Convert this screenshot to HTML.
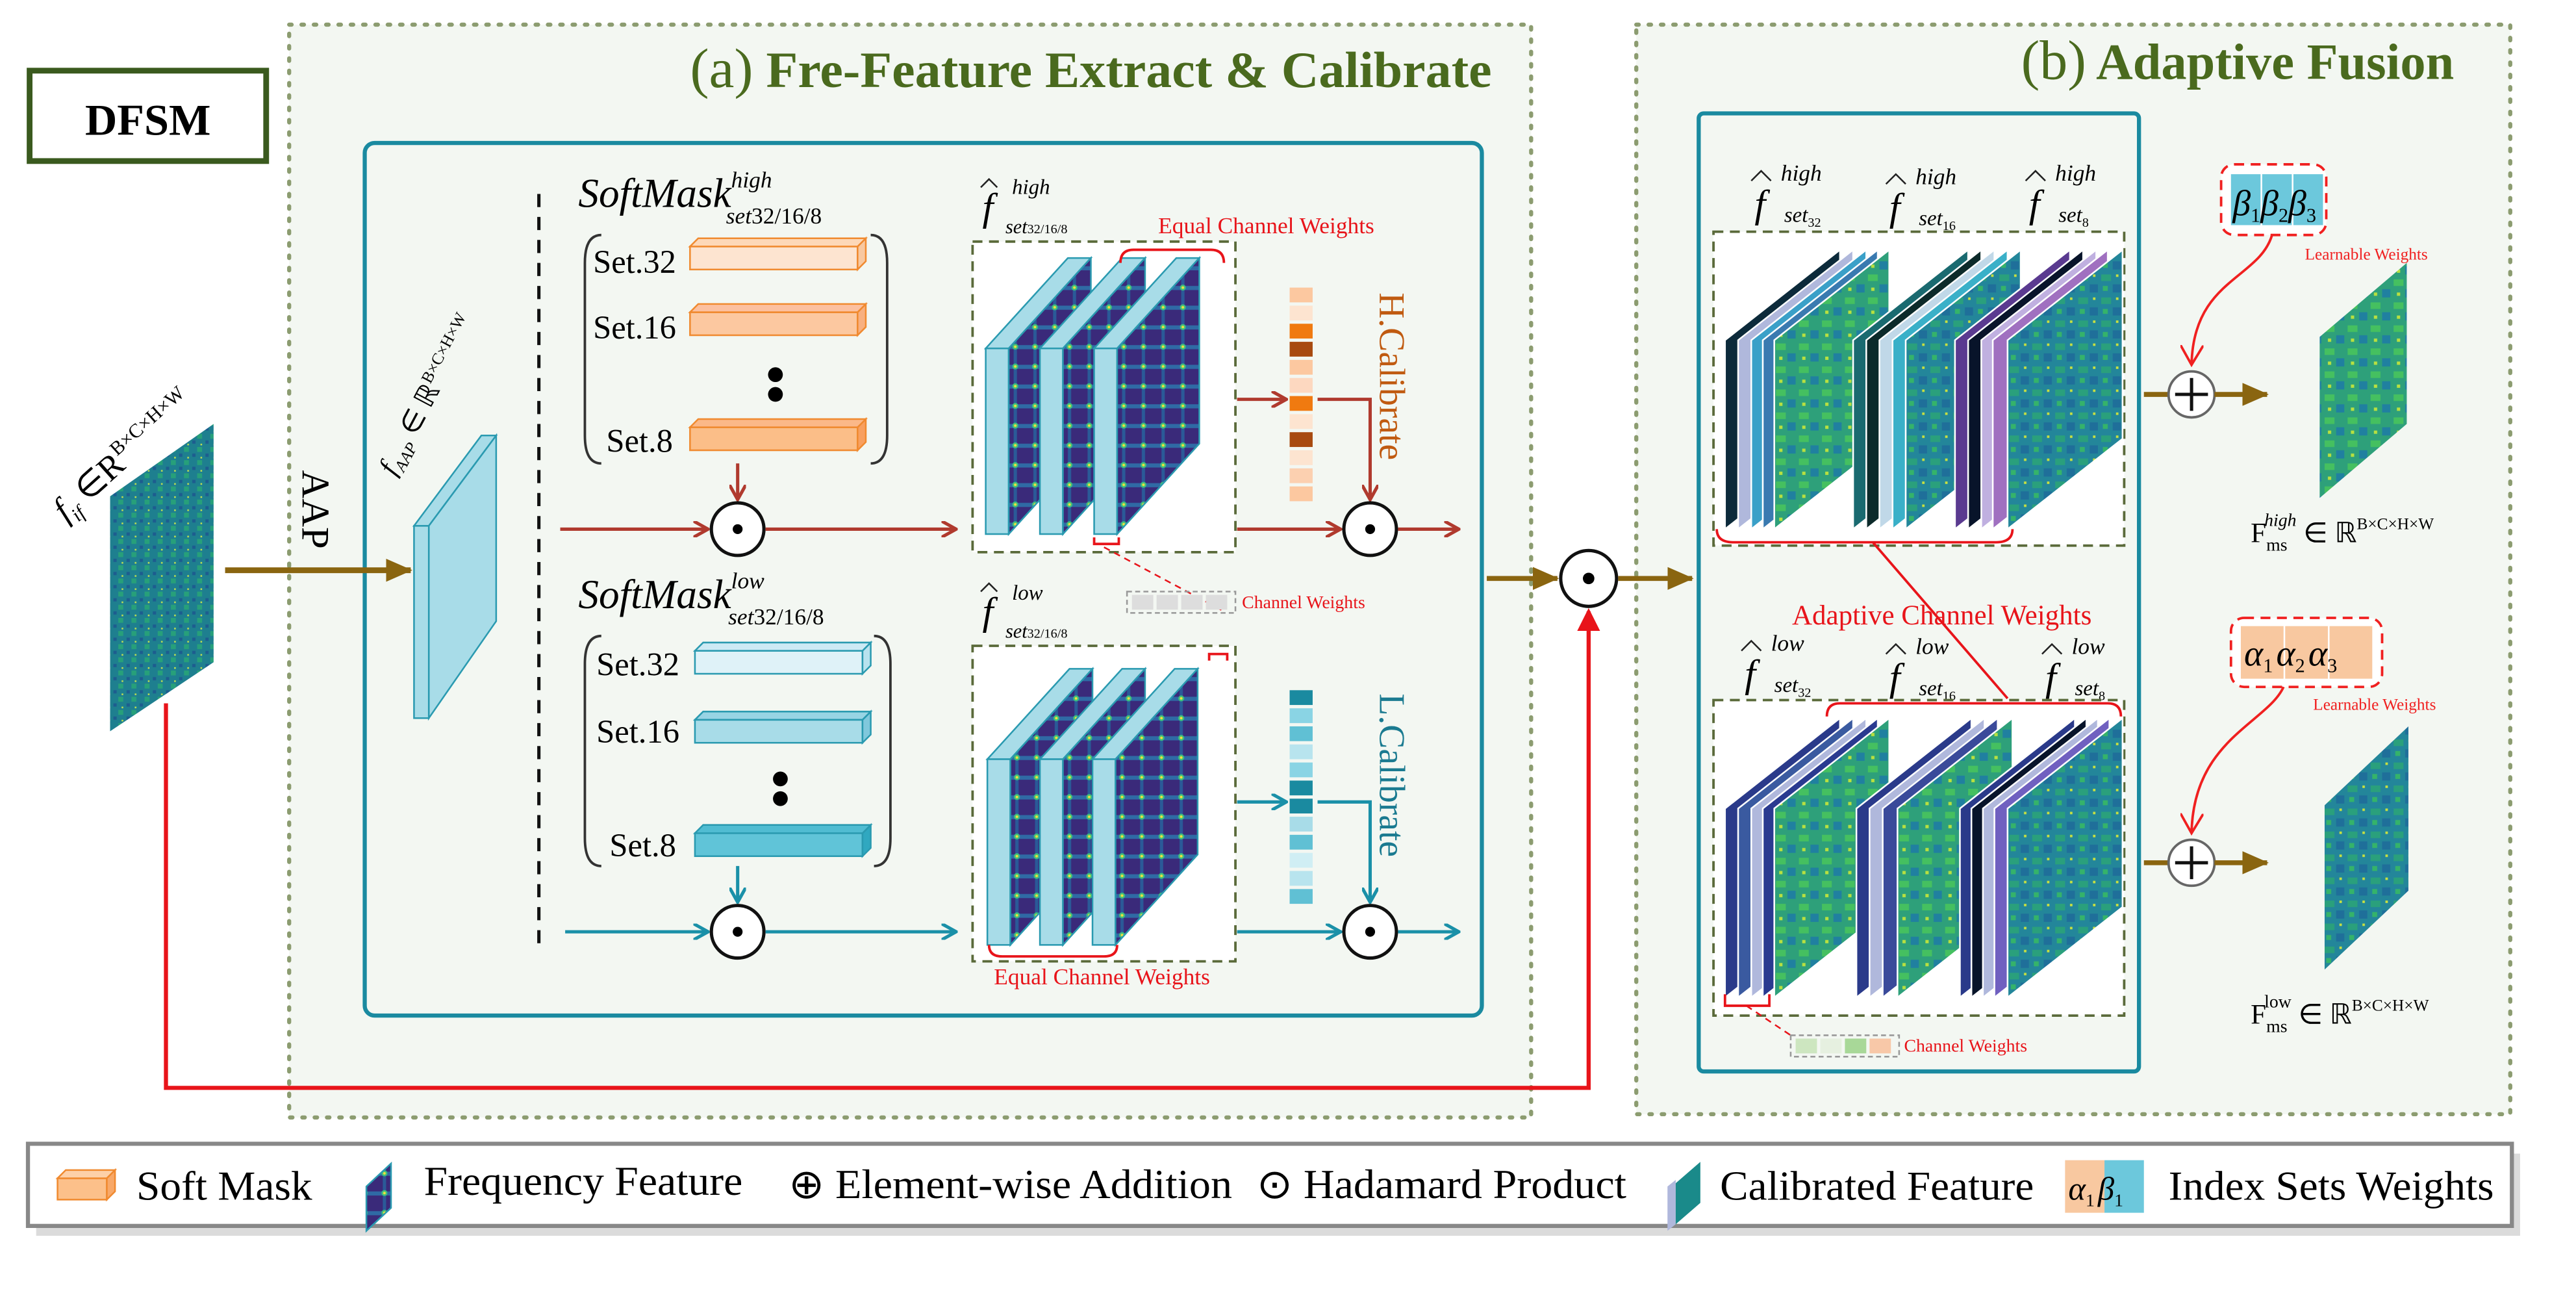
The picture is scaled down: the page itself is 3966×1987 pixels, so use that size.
<!DOCTYPE html>
<html><head><meta charset="utf-8"><style>
html,body{margin:0;padding:0;background:#fff;}
svg{display:block;}
text{font-family:"Liberation Serif",serif;}
</style></head><body>
<svg width="3966" height="1987" viewBox="0 0 1568 785.6" xmlns="http://www.w3.org/2000/svg">
<defs>
<pattern id="freq" width="12" height="12" patternUnits="userSpaceOnUse">
<rect width="12" height="12" fill="#3a2a7a"/>
<rect x="0" y="5" width="12" height="2.5" fill="#2f6aa5"/>
<rect x="5" y="0" width="2" height="12" fill="#2a5a98"/>
<circle cx="6" cy="6" r="1.8" fill="#3fc07a"/>
<circle cx="6" cy="6" r="0.8" fill="#f0e040"/>
</pattern>
<pattern id="fmap" width="14" height="14" patternUnits="userSpaceOnUse">
<rect width="14" height="14" fill="#23869a"/>
<rect x="1" y="2" width="6" height="4" fill="#2aa07c"/>
<rect x="8" y="8" width="5" height="5" fill="#1f6f9a"/>
<rect x="2" y="9" width="3" height="3" fill="#35b36a"/>
<rect x="10" y="2" width="1.5" height="1.5" fill="#c8e040"/>
</pattern>
<pattern id="fmapg" width="14" height="14" patternUnits="userSpaceOnUse">
<rect width="14" height="14" fill="#2ea07a"/>
<rect x="1" y="2" width="6" height="4" fill="#45c060"/>
<rect x="8" y="8" width="5" height="5" fill="#2080a0"/>
<rect x="3" y="10" width="2" height="2" fill="#b8e040"/>
</pattern>
<pattern id="noise" width="8" height="8" patternUnits="userSpaceOnUse">
<rect width="8" height="8" fill="#1e7f8f"/>
<rect x="0" y="0" width="3" height="3" fill="#27a07a"/>
<rect x="5" y="4" width="2" height="2" fill="#1d5d8f"/>
<rect x="2" y="6" width="1" height="1" fill="#c0e050"/>
</pattern>
<marker id="arRed" markerWidth="10" markerHeight="10" refX="9" refY="5" orient="auto" markerUnits="userSpaceOnUse"><path d="M0,0 L9,5 L0,10" fill="none" stroke="#b03a2e" stroke-width="2"/></marker>
<marker id="arTeal" markerWidth="10" markerHeight="10" refX="9" refY="5" orient="auto" markerUnits="userSpaceOnUse"><path d="M0,0 L9,5 L0,10" fill="none" stroke="#1a90a8" stroke-width="2"/></marker>
<marker id="arBr" markerWidth="16" markerHeight="14" refX="15" refY="7" orient="auto" markerUnits="userSpaceOnUse"><path d="M0,0 L16,7 L0,14 Z" fill="#8a6510"/></marker>
<marker id="arR2" markerWidth="14" markerHeight="14" refX="12" refY="7" orient="auto" markerUnits="userSpaceOnUse"><path d="M0,0 L14,7 L0,14 Z" fill="#e8141a"/></marker>
<marker id="arRl" markerWidth="14" markerHeight="14" refX="12" refY="7" orient="auto" markerUnits="userSpaceOnUse"><path d="M0,0 L12,7 L0,14" fill="none" stroke="#f02020" stroke-width="1.5"/></marker>
<g id="slabH">
<polygon points="0,55 50,0 64,0 14,55" fill="#a8dce8" stroke="#2a9ab0" stroke-width="1"/>
<rect x="0" y="55" width="14" height="113" fill="#a8dce8" stroke="#2a9ab0" stroke-width="1"/>
<polygon points="14,55 64,0 64,113 14,168" fill="url(#freq)" stroke="#2a9ab0" stroke-width="1"/>
</g>
<g id="lay"><polygon points="0,115 0,0 70,-55 70,60" stroke="#fff" stroke-width="1"/></g>
</defs>

<rect width="1568" height="785.6" fill="#fff"/>

<rect x="176" y="15" width="756" height="665" fill="#f3f7f2" stroke="#8c9c70" stroke-width="2.5" stroke-dasharray="1.5,6" stroke-linecap="round"/>
<text x="664" y="53" text-anchor="middle" font-size="31" font-weight="bold" fill="#4a6a1e" textLength="488" lengthAdjust="spacingAndGlyphs"><tspan font-weight="normal" font-size="34">(a)</tspan> Fre-Feature Extract &amp; Calibrate</text>
<rect x="222" y="87" width="680" height="531" rx="6" fill="none" stroke="#1a8aa0" stroke-width="2.5"/>

<rect x="996" y="15" width="532" height="663" fill="#f3f7f2" stroke="#8c9c70" stroke-width="2.5" stroke-dasharray="1.5,6" stroke-linecap="round"/>
<text x="1362" y="48" text-anchor="middle" font-size="31" font-weight="bold" fill="#4a6a1e"><tspan font-weight="normal" font-size="34">(b)</tspan> Adaptive Fusion</text>
<rect x="1034" y="69" width="268" height="583" rx="3" fill="none" stroke="#1a8aa0" stroke-width="2.5"/>

<rect x="18" y="43" width="144" height="55" fill="#fff" stroke="#3a5a1e" stroke-width="3.5"/>
<text x="90" y="82" text-anchor="middle" font-size="27" font-weight="bold">DFSM</text>

<polygon points="67,302 130,258 130,403 67,445" fill="url(#noise)"/>
<text transform="translate(40,318) rotate(-42)" font-size="21" font-style="italic">f<tspan font-size="12" dy="5">if</tspan><tspan dy="-5" font-style="normal"> ∈R</tspan><tspan font-size="12" dy="-9" font-style="normal">B×C×H×W</tspan></text>
<line x1="137" y1="347" x2="250" y2="347" stroke="#8a6510" stroke-width="3.5" marker-end="url(#arBr)"/>
<text transform="translate(184,286) rotate(90)" font-size="24">AAP</text>
<polygon points="252,320 293,265 302,265 261,320" fill="#a8dce8" stroke="#2a9ab0"/>
<polygon points="261,320 302,265 302,378 261,437" fill="#a8dce8" stroke="#2a9ab0"/>
<rect x="252" y="320" width="9" height="117" fill="#a8dce8" stroke="#2a9ab0"/>
<text transform="translate(240,290) rotate(-62)" font-size="17" font-style="italic">f<tspan font-size="10" dy="4">AAP</tspan><tspan dy="-4" font-style="normal"> ∈ ℝ</tspan><tspan font-size="10" dy="-7" font-style="normal">B×C×H×W</tspan></text>

<line x1="328" y1="118" x2="328" y2="575" stroke="#111" stroke-width="2" stroke-dasharray="8,6"/>

<text x="352" y="126" font-size="25" font-style="italic">SoftMask<tspan font-size="14" dy="-12">high</tspan><tspan font-size="14" dx="-28" dy="22">set</tspan><tspan font-style="normal" font-size="14">32/16/8</tspan></text>
<path d="M366,143 Q356,143 356,160 L356,265 Q356,282 366,282" fill="none" stroke="#333" stroke-width="1.5"/>
<path d="M530,143 Q540,143 540,160 L540,265 Q540,282 530,282" fill="none" stroke="#333" stroke-width="1.5"/>
<text x="361" y="166" font-size="20">Set.32</text>
<text x="361" y="206" font-size="20">Set.16</text>
<text x="369" y="275" font-size="20">Set.8</text>
<g stroke="#f08a30" stroke-width="1">
<rect x="420" y="150" width="102" height="14" fill="#fde4d0"/><polygon points="522,150 527,145 527,159 522,164" fill="#f8c8a0"/><polygon points="420,150 425,145 527,145 522,150" fill="#fdd8b8"/>
<rect x="420" y="190" width="102" height="14" fill="#fcc8a0"/><polygon points="522,190 527,185 527,199 522,204" fill="#f8b080"/><polygon points="420,190 425,185 527,185 522,190" fill="#fcc0a0"/>
<rect x="420" y="260" width="102" height="14" fill="#fbbe88"/><polygon points="522,260 527,255 527,269 522,274" fill="#f8a060"/><polygon points="420,260 425,255 527,255 522,260" fill="#fbb888"/>
</g>
<circle cx="472" cy="228" r="4.5"/><circle cx="472" cy="240" r="4.5"/>
<line x1="449" y1="282" x2="449" y2="304" stroke="#b03a2e" stroke-width="2" marker-end="url(#arRed)"/>
<line x1="341" y1="322" x2="431" y2="322" stroke="#b03a2e" stroke-width="2" marker-end="url(#arRed)"/>
<circle cx="449" cy="322" r="16" fill="#fff" stroke="#111" stroke-width="2"/><circle cx="449" cy="322" r="3"/>
<line x1="466" y1="322" x2="582" y2="322" stroke="#b03a2e" stroke-width="2" marker-end="url(#arRed)"/>

<text x="598" y="134" font-size="24" font-style="italic">f</text><path d="M597,114 L602,109 L607,114" fill="none" stroke="#222" stroke-width="1"/>
<text x="616" y="118" font-size="13" font-style="italic">high</text><text x="612" y="142" font-size="12" font-style="italic">set<tspan font-size="8" font-style="normal">32/16/8</tspan></text>
<text x="705" y="142" font-size="14" fill="#e8141a">Equal Channel Weights</text>
<rect x="592" y="147" width="160" height="189" fill="#fff" stroke="#5a6a3a" stroke-width="1.5" stroke-dasharray="6,4"/>
<use href="#slabH" x="600" y="157"/>
<use href="#slabH" x="633" y="157"/>
<use href="#slabH" x="666" y="157"/>
<path d="M682,160 Q682,152 690,152 L737,152 Q745,152 745,160" fill="none" stroke="#e8141a" stroke-width="1.5"/>
<path d="M666,327 L666,331 L681,331 L681,327" fill="none" stroke="#e8141a" stroke-width="1.5"/>
<line x1="672" y1="333" x2="745" y2="372" stroke="#e8141a" stroke-width="1" stroke-dasharray="4,3"/>
<g>
<rect x="785" y="175" width="14" height="9" fill="#fcc8a0"/><rect x="785" y="186" width="14" height="9" fill="#fde4d0"/>
<rect x="785" y="197" width="14" height="9" fill="#f07a10"/><rect x="785" y="208" width="14" height="9" fill="#a84a10"/>
<rect x="785" y="219" width="14" height="9" fill="#fcc8a0"/><rect x="785" y="230" width="14" height="9" fill="#fdd8c0"/>
<rect x="785" y="241" width="14" height="9" fill="#f07a10"/><rect x="785" y="252" width="14" height="9" fill="#fde4d0"/>
<rect x="785" y="263" width="14" height="9" fill="#a84a10"/><rect x="785" y="274" width="14" height="9" fill="#fde4d0"/>
<rect x="785" y="285" width="14" height="9" fill="#fcd0b0"/><rect x="785" y="296" width="14" height="9" fill="#fcc8a0"/>
</g>
<text transform="translate(840,178) rotate(90)" font-size="22" fill="#c05a10">H.Calibrate</text>
<line x1="753" y1="243" x2="783" y2="243" stroke="#b03a2e" stroke-width="2" marker-end="url(#arRed)"/>
<polyline points="802,243 834,243 834,304" fill="none" stroke="#b03a2e" stroke-width="2" marker-end="url(#arRed)"/>
<line x1="753" y1="322" x2="816" y2="322" stroke="#b03a2e" stroke-width="2" marker-end="url(#arRed)"/>
<circle cx="834" cy="322" r="16" fill="#fff" stroke="#111" stroke-width="2"/><circle cx="834" cy="322" r="3"/>
<line x1="851" y1="322" x2="888" y2="322" stroke="#b03a2e" stroke-width="2" marker-end="url(#arRed)"/>

<rect x="686" y="360" width="66" height="13" fill="none" stroke="#999" stroke-dasharray="3,2"/>
<rect x="689" y="362" width="13" height="9" fill="#ddd"/><rect x="704" y="362" width="13" height="9" fill="#ddd"/><rect x="719" y="362" width="13" height="9" fill="#ddd"/><rect x="734" y="362" width="13" height="9" fill="#ddd"/>
<text x="756" y="370" font-size="11" fill="#e8141a">Channel Weights</text>

<text x="352" y="370" font-size="25" font-style="italic">SoftMask<tspan font-size="14" dy="-12">low</tspan><tspan font-size="14" dx="-22" dy="22">set</tspan><tspan font-style="normal" font-size="14">32/16/8</tspan></text>
<path d="M366,387 Q356,387 356,404 L356,510 Q356,527 366,527" fill="none" stroke="#333" stroke-width="1.5"/>
<path d="M532,387 Q542,387 542,404 L542,510 Q542,527 532,527" fill="none" stroke="#333" stroke-width="1.5"/>
<text x="363" y="411" font-size="20">Set.32</text>
<text x="363" y="452" font-size="20">Set.16</text>
<text x="371" y="521" font-size="20">Set.8</text>
<g stroke="#2a9ab0" stroke-width="1">
<rect x="423" y="396" width="102" height="14" fill="#dff2f8"/><polygon points="525,396 530,391 530,405 525,410" fill="#b8e2ee"/><polygon points="423,396 428,391 530,391 525,396" fill="#cdeaf4"/>
<rect x="423" y="438" width="102" height="14" fill="#a8dce8"/><polygon points="525,438 530,433 530,447 525,452" fill="#80c8dc"/><polygon points="423,438 428,433 530,433 525,438" fill="#98d4e4"/>
<rect x="423" y="507" width="102" height="14" fill="#60c4d8"/><polygon points="525,507 530,502 530,516 525,521" fill="#30a8c0"/><polygon points="423,507 428,502 530,502 525,507" fill="#50bcd2"/>
</g>
<circle cx="475" cy="474" r="4.5"/><circle cx="475" cy="486" r="4.5"/>
<line x1="449" y1="527" x2="449" y2="549" stroke="#1a90a8" stroke-width="2" marker-end="url(#arTeal)"/>
<line x1="344" y1="567" x2="431" y2="567" stroke="#1a90a8" stroke-width="2" marker-end="url(#arTeal)"/>
<circle cx="449" cy="567" r="16" fill="#fff" stroke="#111" stroke-width="2"/><circle cx="449" cy="567" r="3"/>
<line x1="466" y1="567" x2="582" y2="567" stroke="#1a90a8" stroke-width="2" marker-end="url(#arTeal)"/>

<text x="598" y="380" font-size="24" font-style="italic">f</text><path d="M597,360 L602,355 L607,360" fill="none" stroke="#222" stroke-width="1"/>
<text x="616" y="365" font-size="13" font-style="italic">low</text><text x="612" y="388" font-size="12" font-style="italic">set<tspan font-size="8" font-style="normal">32/16/8</tspan></text>
<rect x="592" y="393" width="160" height="192" fill="#fff" stroke="#5a6a3a" stroke-width="1.5" stroke-dasharray="6,4"/>
<use href="#slabH" x="601" y="407"/>
<use href="#slabH" x="633" y="407"/>
<use href="#slabH" x="665" y="407"/>
<path d="M736,402 L736,398 L747,398 L747,402" fill="none" stroke="#e8141a" stroke-width="1.5"/>
<path d="M602,575 Q602,582 610,582 L672,582 Q680,582 680,575" fill="none" stroke="#e8141a" stroke-width="1.5"/>
<text x="605" y="599" font-size="14" fill="#e8141a">Equal Channel Weights</text>
<g>
<rect x="785" y="420" width="14" height="9" fill="#1a8aa0"/><rect x="785" y="431" width="14" height="9" fill="#8ad4e4"/>
<rect x="785" y="442" width="14" height="9" fill="#60c0d4"/><rect x="785" y="453" width="14" height="9" fill="#b8e4ee"/>
<rect x="785" y="464" width="14" height="9" fill="#8ad4e4"/><rect x="785" y="475" width="14" height="9" fill="#1a8aa0"/>
<rect x="785" y="486" width="14" height="9" fill="#1a8aa0"/><rect x="785" y="497" width="14" height="9" fill="#a8dce8"/>
<rect x="785" y="508" width="14" height="9" fill="#60c0d4"/><rect x="785" y="519" width="14" height="9" fill="#d0eef4"/>
<rect x="785" y="530" width="14" height="9" fill="#b8e4ee"/><rect x="785" y="541" width="14" height="9" fill="#60c0d4"/>
</g>
<text transform="translate(840,422) rotate(90)" font-size="22" fill="#1a7a90">L.Calibrate</text>
<line x1="753" y1="488" x2="783" y2="488" stroke="#1a90a8" stroke-width="2" marker-end="url(#arTeal)"/>
<polyline points="802,488 834,488 834,549" fill="none" stroke="#1a90a8" stroke-width="2" marker-end="url(#arTeal)"/>
<line x1="753" y1="567" x2="816" y2="567" stroke="#1a90a8" stroke-width="2" marker-end="url(#arTeal)"/>
<circle cx="834" cy="567" r="16" fill="#fff" stroke="#111" stroke-width="2"/><circle cx="834" cy="567" r="3"/>
<line x1="851" y1="567" x2="888" y2="567" stroke="#1a90a8" stroke-width="2" marker-end="url(#arTeal)"/>

<line x1="905" y1="352" x2="948" y2="352" stroke="#8a6510" stroke-width="3" marker-end="url(#arBr)"/>
<circle cx="967" cy="352" r="17" fill="#fff" stroke="#111" stroke-width="2"/><circle cx="967" cy="352" r="3.5"/>
<line x1="985" y1="352" x2="1030" y2="352" stroke="#8a6510" stroke-width="3" marker-end="url(#arBr)"/>
<polyline points="101,428 101,662 967,662 967,372" fill="none" stroke="#e8141a" stroke-width="2.5" marker-end="url(#arR2)"/>

<g font-style="italic">
<text x="1068" y="132" font-size="24">f</text><path d="M1066,110 L1072,104 L1078,110" fill="none" stroke="#222" stroke-width="1"/><text x="1084" y="110" font-size="14">high</text><text x="1086" y="135" font-size="13">set<tspan font-size="8" font-style="normal" dy="3">32</tspan></text>
<text x="1150" y="134" font-size="24">f</text><path d="M1148,112 L1154,106 L1160,112" fill="none" stroke="#222" stroke-width="1"/><text x="1166" y="112" font-size="14">high</text><text x="1168" y="137" font-size="13">set<tspan font-size="8" font-style="normal" dy="3">16</tspan></text>
<text x="1235" y="132" font-size="24">f</text><path d="M1233,110 L1239,104 L1245,110" fill="none" stroke="#222" stroke-width="1"/><text x="1251" y="110" font-size="14">high</text><text x="1253" y="135" font-size="13">set<tspan font-size="8" font-style="normal" dy="3">8</tspan></text>
</g>
<rect x="1043" y="141" width="250" height="191" fill="#fff" stroke="#5a6a3a" stroke-width="1.5" stroke-dasharray="6,4"/>
<g>
<use href="#lay" x="1050" y="207" fill="#0c2a3a"/><use href="#lay" x="1058" y="207" fill="#b0b8dc"/><use href="#lay" x="1066" y="207" fill="#3aa0c8"/><use href="#lay" x="1073" y="207" fill="#3a7ab0"/><use href="#lay" x="1080" y="207" fill="url(#fmapg)"/>
<use href="#lay" x="1128" y="207" fill="#1a6a70"/><use href="#lay" x="1136" y="207" fill="#0c2a2a"/><use href="#lay" x="1144" y="207" fill="#c0d8e8"/><use href="#lay" x="1152" y="207" fill="#3ab0c8"/><use href="#lay" x="1160" y="207" fill="url(#fmap)"/>
<use href="#lay" x="1190" y="207" fill="#5a3a90"/><use href="#lay" x="1198" y="207" fill="#08142a"/><use href="#lay" x="1206" y="207" fill="#c0b0e0"/><use href="#lay" x="1213" y="207" fill="#a070c0"/><use href="#lay" x="1222" y="207" fill="url(#fmap)"/>
</g>
<path d="M1045,322 Q1045,330 1055,330 L1215,330 Q1225,330 1225,322" fill="none" stroke="#e8141a" stroke-width="1.5"/>
<line x1="1140" y1="330" x2="1222" y2="425" stroke="#e8141a" stroke-width="1.5"/>
<text x="1182" y="380" text-anchor="middle" font-size="17" fill="#e8141a">Adaptive Channel Weights</text>

<g font-style="italic">
<text x="1062" y="418" font-size="24">f</text><path d="M1060,396 L1066,390 L1072,396" fill="none" stroke="#222" stroke-width="1"/><text x="1078" y="396" font-size="14">low</text><text x="1080" y="421" font-size="13">set<tspan font-size="8" font-style="normal" dy="3">32</tspan></text>
<text x="1150" y="420" font-size="24">f</text><path d="M1148,398 L1154,392 L1160,398" fill="none" stroke="#222" stroke-width="1"/><text x="1166" y="398" font-size="14">low</text><text x="1168" y="423" font-size="13">set<tspan font-size="8" font-style="normal" dy="3">16</tspan></text>
<text x="1245" y="420" font-size="24">f</text><path d="M1243,398 L1249,392 L1255,398" fill="none" stroke="#222" stroke-width="1"/><text x="1261" y="398" font-size="14">low</text><text x="1263" y="423" font-size="13">set<tspan font-size="8" font-style="normal" dy="3">8</tspan></text>
</g>
<rect x="1043" y="426" width="250" height="192" fill="#fff" stroke="#5a6a3a" stroke-width="1.5" stroke-dasharray="6,4"/>
<g>
<use href="#lay" x="1050" y="492" fill="#2a3a8a"/><use href="#lay" x="1058" y="492" fill="#3a5aa0"/><use href="#lay" x="1066" y="492" fill="#b0b8dc"/><use href="#lay" x="1073" y="492" fill="#2a3a90"/><use href="#lay" x="1080" y="492" fill="url(#fmapg)"/>
<use href="#lay" x="1130" y="492" fill="#2a3a8a"/><use href="#lay" x="1138" y="492" fill="#b0b8dc"/><use href="#lay" x="1146" y="492" fill="#3a4a9a"/><use href="#lay" x="1155" y="492" fill="url(#fmapg)"/>
<use href="#lay" x="1193" y="492" fill="#2a3a8a"/><use href="#lay" x="1200" y="492" fill="#08142a"/><use href="#lay" x="1207" y="492" fill="#b0b8dc"/><use href="#lay" x="1214" y="492" fill="#7060c0"/><use href="#lay" x="1222" y="492" fill="url(#fmap)"/>
</g>
<path d="M1112,436 Q1112,428 1120,428 L1283,428 Q1291,428 1291,436" fill="none" stroke="#e8141a" stroke-width="1.5"/>
<path d="M1050,605 L1050,612 L1077,612 L1077,605" fill="none" stroke="#e8141a" stroke-width="1.5"/>
<line x1="1063" y1="612" x2="1090" y2="630" stroke="#e8141a" stroke-width="1" stroke-dasharray="4,3"/>
<rect x="1090" y="630" width="66" height="13" fill="none" stroke="#999" stroke-dasharray="3,2"/>
<rect x="1093" y="632" width="13" height="9" fill="#cde6c0"/><rect x="1108" y="632" width="13" height="9" fill="#e6f0e0"/><rect x="1123" y="632" width="13" height="9" fill="#a8d898"/><rect x="1138" y="632" width="13" height="9" fill="#f8c8a8"/>
<text x="1159" y="640" font-size="11" fill="#e8141a">Channel Weights</text>

<rect x="1352" y="100" width="64" height="43" rx="8" fill="#fff" stroke="#f02020" stroke-width="1.5" stroke-dasharray="6,4"/>
<rect x="1358" y="106" width="18" height="31" fill="#6cc8dc"/><rect x="1377" y="106" width="18" height="31" fill="#6cc8dc"/><rect x="1396" y="106" width="18" height="31" fill="#6cc8dc"/>
<text x="1359" y="131" font-size="22" font-style="italic">β<tspan font-size="12" font-style="normal" dy="4">1</tspan><tspan dy="-4">β</tspan><tspan font-size="12" font-style="normal" dy="4">2</tspan><tspan dy="-4">β</tspan><tspan font-size="12" font-style="normal" dy="4">3</tspan></text>
<text x="1403" y="158" font-size="10" fill="#f02020">Learnable Weights</text>
<path d="M1383,143 C1375,170 1335,170 1334,222" fill="none" stroke="#f02020" stroke-width="1.5" marker-end="url(#arRl)"/>
<line x1="1305" y1="240" x2="1320" y2="240" stroke="#8a6510" stroke-width="3"/>
<circle cx="1334" cy="240" r="14" fill="#fff" stroke="#666" stroke-width="1.5"/>
<path d="M1324,240 H1344 M1334,230 V250" stroke="#111" stroke-width="2"/>
<line x1="1348" y1="240" x2="1380" y2="240" stroke="#8a6510" stroke-width="3" marker-end="url(#arBr)"/>
<polygon points="1412,205 1465,160 1465,258 1412,303" fill="url(#fmapg)"/>
<text x="1370" y="330" font-size="17">F<tspan font-size="11" dy="5">ms</tspan><tspan font-size="11" font-style="italic" dx="-14" dy="-15">high</tspan><tspan dy="10" font-size="17"> ∈ ℝ</tspan><tspan font-size="10" dy="-8">B×C×H×W</tspan></text>

<rect x="1358" y="376" width="92" height="42" rx="8" fill="#fff" stroke="#f02020" stroke-width="1.5" stroke-dasharray="6,4"/>
<rect x="1364" y="381" width="26" height="32" fill="#f8c8a0"/><rect x="1391" y="381" width="26" height="32" fill="#f8c8a0"/><rect x="1418" y="381" width="26" height="32" fill="#f8c8a0"/>
<text x="1366" y="405" font-size="22" font-style="italic">α<tspan font-size="12" font-style="normal" dy="4">1</tspan><tspan dy="-4" dx="2">α</tspan><tspan font-size="12" font-style="normal" dy="4">2</tspan><tspan dy="-4" dx="2">α</tspan><tspan font-size="12" font-style="normal" dy="4">3</tspan></text>
<text x="1408" y="432" font-size="10" fill="#f02020">Learnable Weights</text>
<path d="M1390,418 C1380,440 1335,450 1334,507" fill="none" stroke="#f02020" stroke-width="1.5" marker-end="url(#arRl)"/>
<line x1="1305" y1="525" x2="1320" y2="525" stroke="#8a6510" stroke-width="3"/>
<circle cx="1334" cy="525" r="14" fill="#fff" stroke="#666" stroke-width="1.5"/>
<path d="M1324,525 H1344 M1334,515 V535" stroke="#111" stroke-width="2"/>
<line x1="1348" y1="525" x2="1380" y2="525" stroke="#8a6510" stroke-width="3" marker-end="url(#arBr)"/>
<polygon points="1415,490 1466,442 1466,542 1415,590" fill="url(#fmap)"/>
<text x="1370" y="623" font-size="17">F<tspan font-size="11" dy="5">ms</tspan><tspan font-size="11" dx="-14" dy="-15">low</tspan><tspan dy="10" font-size="17"> ∈ ℝ</tspan><tspan font-size="10" dy="-8">B×C×H×W</tspan></text>

<rect x="22" y="702" width="1512" height="50" fill="#999" opacity="0.35"/>
<rect x="17" y="696" width="1512" height="50" fill="#fff" stroke="#888" stroke-width="2.5"/>
<g>
<rect x="35" y="717" width="30" height="13" fill="#fcc08a" stroke="#f08a30"/><polygon points="35,717 40,712 70,712 65,717" fill="#fdd0a8" stroke="#f08a30"/><polygon points="65,717 70,712 70,725 65,730" fill="#f8a868" stroke="#f08a30"/>
<text x="83" y="730" font-size="25" textLength="107" lengthAdjust="spacingAndGlyphs">Soft Mask</text>
<polygon points="223,722 238,708 238,735 223,749" fill="url(#freq)" stroke="#2a9ab0"/>
<text x="258" y="727" font-size="25" textLength="194" lengthAdjust="spacingAndGlyphs">Frequency Feature</text>
<text x="480" y="729" font-size="25" textLength="270" lengthAdjust="spacingAndGlyphs">⊕ Element-wise Addition</text>
<text x="765" y="729" font-size="25" textLength="225" lengthAdjust="spacingAndGlyphs">⊙ Hadamard Product</text>
<polygon points="1015,722 1020,718 1020,745 1015,749" fill="#b0b8dc"/><polygon points="1020,720 1035,707 1035,732 1020,745" fill="#1a8a8a"/>
<text x="1047" y="730" font-size="25" textLength="191" lengthAdjust="spacingAndGlyphs">Calibrated Feature</text>
<rect x="1257" y="706" width="24" height="32" fill="#f8c8a0"/><rect x="1281" y="706" width="24" height="32" fill="#6cc8dc"/>
<text x="1259" y="730" font-size="20" font-style="italic">α<tspan font-size="11" font-style="normal" dy="4">1</tspan><tspan dy="-4" dx="2">β</tspan><tspan font-size="11" font-style="normal" dy="4">1</tspan></text>
<text x="1320" y="730" font-size="25" textLength="198" lengthAdjust="spacingAndGlyphs">Index Sets Weights</text>
</g>
</svg>
</body></html>
